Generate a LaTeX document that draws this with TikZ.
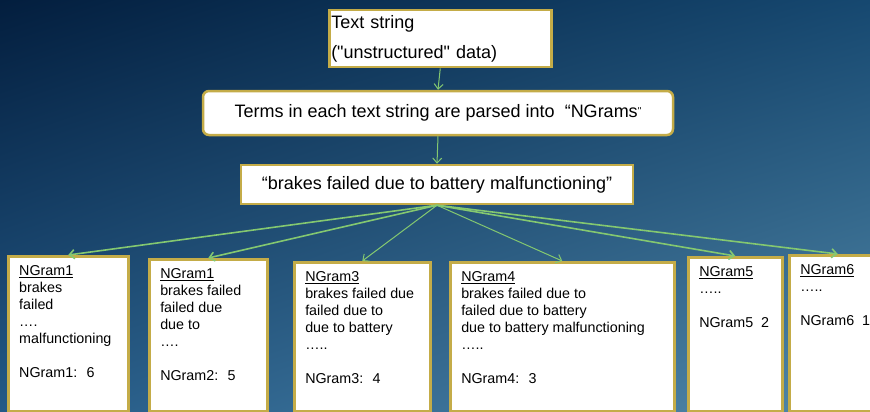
\documentclass[tikz,border=0pt]{standalone}
\usepackage{fontspec}
\setmainfont{Liberation Sans}
\usepackage{tikz}
\usetikzlibrary{arrows.meta, positioning, shadings}
\definecolor{gold}{RGB}{196,172,72}
\definecolor{leaf}{RGB}{132,200,112}
\definecolor{bgA}{RGB}{3,30,62}
\definecolor{bgB}{RGB}{22,72,112}
\definecolor{bgC}{RGB}{36,90,135}
\definecolor{bgD}{RGB}{82,136,168}
\tikzstyle{textbox} = [rectangle, draw=gold, line width=2.5pt, fill=white, inner sep=2pt]
\tikzstyle{ngram} = [rectangle, draw=gold, line width=2.5pt, fill=white, anchor=north west, inner xsep=11pt, inner ysep=9pt, font=\fontsize{14.3}{17}\selectfont]
\tikzstyle{arrow} = [draw=leaf, line width=1pt, -{Straight Barb[length=5pt,width=9pt]}]

\begin{document}
\begin{tikzpicture}[x=1pt, y=-1pt]
    \clip (0,0) rectangle (870,412);
    \shade[upper left=bgA, upper right=bgB, lower left=bgC, lower right=bgD] (0,0) rectangle (870,412);

    \node[textbox, anchor=north west, minimum width=222pt, minimum height=57pt, text width=218pt, align=left, font=\fontsize{18}{30}\selectfont] (raw) at (328,9) {Text string\\(\textquotedbl unstructured\textquotedbl{} data)};
    \node[textbox, rounded corners=6pt, minimum width=470pt, minimum height=44pt, font=\fontsize{18}{22}\selectfont] (parse) at (438,113) {Terms in each text string are parsed into~ “NGrams{\fontsize{10}{10}\selectfont\raisebox{3pt}{\textquotedbl}}};
    \node[textbox, minimum width=392pt, minimum height=39pt, font=\fontsize{18}{22}\selectfont] (sentence) at (437,184.5) {“brakes failed due to battery malfunctioning”};

    % one box per n-gram length
    \node[ngram] (ng1) at (7,255) {\parbox[t][137pt][t]{98pt}{\underline{NGram1}\\brakes\\failed\\….\\malfunctioning\\[17pt]NGram1:~ 6}};
    \node[ngram] (ng2) at (148,258) {\parbox[t][134pt][t]{96pt}{\underline{NGram1}\\brakes failed\\failed due\\due to\\….\\[17pt]NGram2:~ 5}};
    \node[ngram] (ng3) at (293,261) {\parbox[t][131pt][t]{114pt}{\underline{NGram3}\\brakes failed due\\failed due to\\due to battery\\…..\\[17pt]NGram3:~ 4}};
    \node[ngram] (ng4) at (449,261) {\parbox[t][131pt][t]{202pt}{\underline{NGram4}\\brakes failed due to\\failed due to battery\\due to battery malfunctioning\\…..\\[17pt]NGram4:~ 3}};
    \node[ngram] (ng5) at (687,256) {\parbox[t][136pt][t]{72pt}{\underline{NGram5}\\…..\\[17pt]NGram5~ 2}};
    \node[ngram] (ng6) at (788,254) {\parbox[t][138pt][t]{75pt}{\underline{NGram6}\\…..\\[17pt]NGram6~ 1}};

    \draw[arrow] (raw.south) -- (parse.north);
    \draw[arrow] (parse.south) -- (sentence.north);
    \draw[arrow, line width=1.6pt] (sentence.south) -- (ng1.north);
    \draw[arrow, line width=1.6pt] (sentence.south) -- (ng2.north);
    \draw[arrow] (sentence.south) -- (ng3.north);
    \draw[arrow] (sentence.south) -- (ng4.north);
    \draw[arrow, line width=1.6pt] (sentence.south) -- (ng5.north);
    \draw[arrow, line width=1.6pt] (sentence.south) -- (ng6.north);
\end{tikzpicture}
\end{document}
